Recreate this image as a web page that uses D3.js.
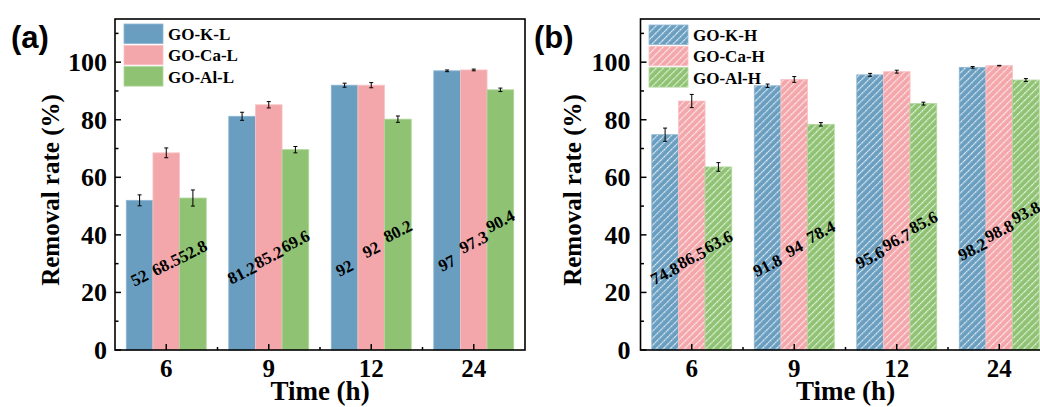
<!DOCTYPE html>
<html><head><meta charset="utf-8">
<script src="https://cdn.jsdelivr.net/npm/d3@7"></script>
<style>
html,body{margin:0;padding:0;background:#fff;}
svg{display:block;}
text{font-family:"Liberation Serif","Times New Roman",serif;font-weight:bold;fill:#000;}
</style></head>
<body>
<svg id="chart" width="1040" height="407"></svg>
<script>
// ---------- data ----------
const categories = ["6", "9", "12", "24"];
const yTicks = [0, 20, 40, 60, 80, 100];
const yMinorTicks = [10, 30, 50, 70, 90, 110];

const seriesL = ["GO-K-L", "GO-Ca-L", "GO-Al-L"];
const kL  = [52, 81.2, 92, 97];
const caL = [68.5, 85.2, 92, 97.3];
const alL = [52.8, 69.6, 80.2, 90.4];
const kLErr  = [1.9, 1.4, 0.7, 0.3];
const caLErr = [1.7, 1.1, 0.9, 0.3];
const alLErr = [2.8, 1.1, 1.1, 0.6];

const seriesH = ["GO-K-H", "GO-Ca-H", "GO-Al-H"];
const kH  = [74.8, 91.8, 95.6, 98.2];
const caH = [86.5, 94, 96.7, 98.8];
const alH = [63.6, 78.4, 85.6, 93.8];
const kHErr  = [2.3, 0.6, 0.5, 0.3];
const caHErr = [2.3, 1.0, 0.5, 0.1];
const alHErr = [1.5, 0.6, 0.5, 0.5];

const colors = ["#6A9EC0", "#F4A7AB", "#8FC373"];
const strokes = ["#8DB6D2", "#F8C4C7", "#B0D69B"];

// ---------- drawing ----------
const svg = d3.select("#chart");
const defs = svg.append("defs");
colors.forEach((c, i) => {
  const p = defs.append("pattern")
    .attr("id", "hatch" + i)
    .attr("patternUnits", "userSpaceOnUse")
    .attr("width", 5).attr("height", 5)
    .attr("patternTransform", "rotate(45)");
  p.append("rect").attr("width", 5).attr("height", 5).attr("fill", c);
  p.append("line").attr("x1", 0.6).attr("y1", 0).attr("x2", 0.6).attr("y2", 5)
    .attr("stroke", "#fff").attr("stroke-opacity", 0.85).attr("stroke-width", 1.1)
    .attr("stroke-dasharray", "2,0.6");
});

function drawPanel(cfg) {
  const g = svg.append("g");
  const x0 = d3.scaleBand().domain(categories).range([cfg.left, cfg.right])
    .paddingInner(0.22).paddingOuter(0.11);
  const x1 = d3.scaleBand().domain(d3.range(3)).range([0, x0.bandwidth()]);
  const y = d3.scaleLinear().domain([0, 115]).range([350, 19]);

  const data = [];
  cfg.values.forEach((arr, s) => arr.forEach((v, gi) => {
    data.push({cat: categories[gi], gi, s, v, e: cfg.errors[s][gi]});
  }));

  // bars
  g.selectAll("rect.bar").data(data).join("rect")
    .attr("class", "bar")
    .attr("x", d => x0(d.cat) + x1(d.s))
    .attr("width", x1.bandwidth())
    .attr("y", d => y(d.v))
    .attr("height", d => y(0) - y(d.v))
    .attr("fill", d => cfg.hatch ? `url(#hatch${d.s})` : colors[d.s])
    .attr("stroke", d => strokes[d.s]).attr("stroke-width", 0.8);

  // error bars
  const eb = g.selectAll("g.err").data(data).join("g").attr("class", "err")
    .attr("stroke", "#000").attr("stroke-width", 1);
  eb.append("line")
    .attr("x1", d => x0(d.cat) + x1(d.s) + x1.bandwidth() / 2)
    .attr("x2", d => x0(d.cat) + x1(d.s) + x1.bandwidth() / 2)
    .attr("y1", d => y(d.v - d.e)).attr("y2", d => y(d.v + d.e));
  [-1, 1].forEach(sg => {
    eb.append("line")
      .attr("x1", d => x0(d.cat) + x1(d.s) + x1.bandwidth() / 2 - 2)
      .attr("x2", d => x0(d.cat) + x1(d.s) + x1.bandwidth() / 2 + 2)
      .attr("y1", d => y(d.v + sg * d.e)).attr("y2", d => y(d.v + sg * d.e));
  });

  // value labels
  g.selectAll("text.val").data(data).join("text")
    .attr("class", "val")
    .attr("text-anchor", "middle").attr("dominant-baseline", "central")
    .style("font-size", "17px")
    .attr("transform", d => {
      const cx = x0(d.cat) + x1(d.s) + x1.bandwidth() / 2;
      const lv = cfg.lab[0] + cfg.lab[1] * d.gi + d.s * (cfg.lab[2] + cfg.lab[3] * d.gi);
      return `translate(${cx},${y(lv)}) rotate(-27)`;
    })
    .text(d => d.v);

  // axes
  const yAxis = g.append("g").attr("transform", `translate(${cfg.left},0)`);
  yAxis.selectAll("line.maj").data(yTicks).join("line")
    .attr("x1", 0).attr("x2", 6).attr("y1", d => y(d)).attr("y2", d => y(d))
    .attr("stroke", "#000").attr("stroke-width", 1.5);
  yAxis.selectAll("line.min").data(yMinorTicks).join("line")
    .attr("x1", 0).attr("x2", 3.5).attr("y1", d => y(d)).attr("y2", d => y(d))
    .attr("stroke", "#000").attr("stroke-width", 1.5);
  yAxis.selectAll("text").data(yTicks).join("text")
    .attr("x", -cfg.tickGap).attr("y", d => y(d) + 9)
    .attr("text-anchor", "end").style("font-size", "26px")
    .text(d => d);

  const xAxis = g.append("g");
  xAxis.selectAll("line.maj").data(categories).join("line")
    .attr("x1", d => x0(d) + x0.bandwidth() / 2).attr("x2", d => x0(d) + x0.bandwidth() / 2)
    .attr("y1", y(0)).attr("y2", y(0) - 6)
    .attr("stroke", "#000").attr("stroke-width", 1.5);
  xAxis.selectAll("line.min").data(categories.slice(1)).join("line")
    .attr("x1", d => x0(d) - x0.step() * 0.11).attr("x2", d => x0(d) - x0.step() * 0.11)
    .attr("y1", y(0)).attr("y2", y(0) - 3)
    .attr("stroke", "#000").attr("stroke-width", 1.5);
  xAxis.selectAll("text").data(categories).join("text")
    .attr("x", d => x0(d) + x0.bandwidth() / 2).attr("y", 377)
    .attr("text-anchor", "middle").style("font-size", "25px")
    .text(d => d);

  // frame
  g.append("rect").attr("x", cfg.left).attr("y", y(115))
    .attr("width", cfg.right - cfg.left).attr("height", y(0) - y(115))
    .attr("fill", "none").attr("stroke", "#000").attr("stroke-width", 1.6);

  // titles
  g.append("text").attr("x", (cfg.left + cfg.xTitleCenter)).attr("y", 400)
    .attr("text-anchor", "middle").style("font-size", "27px").text("Time (h)");
  g.append("text").attr("transform", `translate(${cfg.yTitleX},190) rotate(-90)`)
    .attr("text-anchor", "middle").attr("dominant-baseline", "central")
    .style("font-size", "25px").text("Removal rate (%)");
  g.append("text").attr("x", cfg.panelX).attr("y", 48)
    .style("font-family", "'Liberation Sans',Arial,sans-serif").style("font-size", "31px")
    .text(cfg.panel);

  // legend
  const lg = g.append("g").attr("transform", `translate(${cfg.legX},${cfg.legY})`);
  cfg.names.forEach((n, i) => {
    lg.append("rect").attr("x", 0).attr("y", i * 21.3).attr("width", 39).attr("height", 19.5)
      .attr("fill", cfg.hatch ? `url(#hatch${i})` : colors[i])
      .attr("stroke", strokes[i]).attr("stroke-width", 0.8);
    lg.append("text").attr("x", 44).attr("y", i * 21.3 + 16)
      .style("font-size", "17px").text(n);
  });
}

drawPanel({
  left: 115, right: 525, values: [kL, caL, alL], errors: [kLErr, caLErr, alLErr],
  names: seriesL, hatch: false, tickGap: 8, yTitleX: 50, xTitleCenter: 205,
  panel: "(a)", panelX: 11, legX: 124, legY: 24, lab: [25, 1.7, 4.6, 0.9]
});
drawPanel({
  left: 640.5, right: 1050.5, values: [kH, caH, alH], errors: [kHErr, caHErr, alHErr],
  names: seriesH, hatch: true, tickGap: 10, yTitleX: 572, xTitleCenter: 205,
  panel: "(b)", panelX: 534, legX: 649, legY: 25, lab: [26.5, 2.8, 5.5, 0.3]
});
</script>
</body></html>
